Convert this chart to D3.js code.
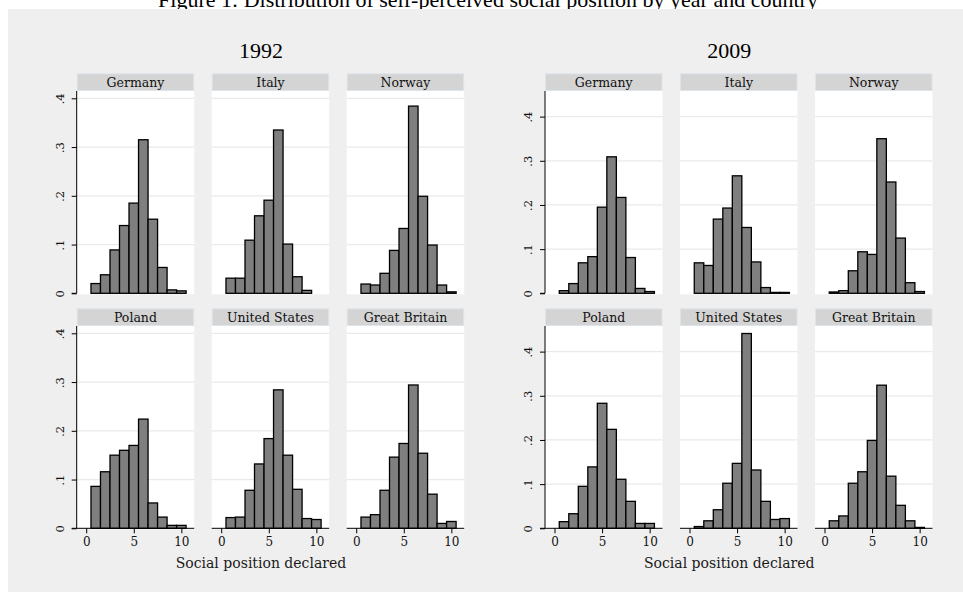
<!DOCTYPE html>
<html>
<head>
<meta charset="utf-8">
<script src="https://cdn.jsdelivr.net/npm/d3@7"></script>
<style>
  body { margin: 0; background: #fff; }
  svg { display: block; }
</style>
</head>
<body>
<div id="chart"></div>
<script>
// social position values 1..10 (histogram bins)
const positions = [1, 2, 3, 4, 5, 6, 7, 8, 9, 10];
const years = ["1992", "2009"];
const countries = ["Germany", "Italy", "Norway", "Poland", "United States", "Great Britain"];
const yTicks = [0, 0.1, 0.2, 0.3, 0.4];
const yTickLabels = ["0", ".1", ".2", ".3", ".4"];
const xTicks = [0, 5, 10];

// densities
const germany1992 = [0.020, 0.038, 0.089, 0.139, 0.185, 0.315, 0.152, 0.053, 0.007, 0.005];
const italy1992 = [0.031, 0.031, 0.109, 0.159, 0.191, 0.335, 0.101, 0.034, 0.006, 0];
const norway1992 = [0.019, 0.017, 0.041, 0.088, 0.133, 0.384, 0.199, 0.099, 0.017, 0.003];
const poland1992 = [0.086, 0.116, 0.150, 0.160, 0.170, 0.224, 0.052, 0.023, 0.006, 0.006];
const us1992 = [0.022, 0.023, 0.078, 0.132, 0.184, 0.284, 0.150, 0.080, 0.020, 0.018];
const gb1992 = [0.023, 0.028, 0.078, 0.146, 0.174, 0.294, 0.154, 0.070, 0.010, 0.014];

const germany2009 = [0.006, 0.022, 0.069, 0.083, 0.195, 0.309, 0.217, 0.081, 0.011, 0.004];
const italy2009 = [0.069, 0.063, 0.168, 0.193, 0.266, 0.149, 0.071, 0.013, 0.002, 0.002];
const norway2009 = [0.003, 0.006, 0.051, 0.094, 0.088, 0.350, 0.252, 0.125, 0.024, 0.004];
const poland2009 = [0.015, 0.033, 0.095, 0.139, 0.283, 0.224, 0.111, 0.061, 0.011, 0.011];
const us2009 = [0.004, 0.017, 0.042, 0.102, 0.147, 0.441, 0.132, 0.061, 0.020, 0.022];
const gb2009 = [0.017, 0.028, 0.102, 0.128, 0.199, 0.324, 0.118, 0.052, 0.017, 0.002];

const series = {
    "1992": [germany1992, italy1992, norway1992, poland1992, us1992, gb1992],
    "2009": [germany2009, italy2009, norway2009, poland2009, us2009, gb2009]
};

const width = 963, height = 592;
const svg = d3.select("#chart").append("svg")
    .attr("width", width)
    .attr("height", height);

// figure caption (partly cut off at the top, as in the source)
svg.append("text")
    .attr("x", 488)
    .attr("y", 7)
    .attr("text-anchor", "middle")
    .style("font-family", "Liberation Serif")
    .style("font-size", "22px")
    .text("Figure 1: Distribution of self-perceived social position by year and country");

svg.append("rect")
    .attr("x", 8).attr("y", 9)
    .attr("width", width - 8).attr("height", height - 9)
    .attr("fill", "#efefef");

// layout of each year block
const groupLeft = { "1992": 76.7, "2009": 545 };
const yMax = { "1992": 0.415, "2009": 0.458 };
const panelW = 117.5, colStep = 135;
const stripTop = [73.3, 308.3], stripH = 17.7;
const plotBottom = [293.3, 528.3];

years.forEach(year => {
    const g = svg.append("g");
    const left = groupLeft[year];
    const mid = left - 19 + (colStep * 2 + panelW + 19) / 2;

    g.append("text")
        .attr("x", mid)
        .attr("y", 58)
        .attr("text-anchor", "middle")
        .style("font-family", "Liberation Serif")
        .style("font-size", "22px")
        .text(year);

    g.append("text")
        .attr("x", mid)
        .attr("y", 568)
        .attr("text-anchor", "middle")
        .style("font-family", "DejaVu Serif")
        .style("font-size", "14px")
        .attr("fill", "#1a1a1a")
        .text("Social position declared");

    countries.forEach((country, i) => {
        const row = Math.floor(i / 3), col = i % 3;
        const px = left + col * colStep;
        const top = stripTop[row] + stripH;
        const bottom = plotBottom[row];

        const x = d3.scaleLinear().domain([-1, 11.35]).range([px, px + panelW]);
        const y = d3.scaleLinear().domain([0, yMax[year]]).range([bottom, top]);

        // strip
        g.append("rect")
            .attr("x", px + 0.5).attr("y", stripTop[row] + 0.5)
            .attr("width", panelW - 1).attr("height", stripH - 1)
            .attr("fill", "#d4d4d4")
            .attr("stroke", "#dce5ec")
            .attr("stroke-width", 1);
        g.append("text")
            .attr("x", px + panelW / 2)
            .attr("y", stripTop[row] + stripH / 2)
            .attr("dy", "0.36em")
            .attr("text-anchor", "middle")
            .style("font-family", "DejaVu Serif")
            .style("font-size", "12.5px")
            .attr("fill", "#111")
            .text(country);

        // plot region
        g.append("rect")
            .attr("x", px).attr("y", top)
            .attr("width", panelW).attr("height", bottom - top + 1)
            .attr("fill", "#fff");

        g.selectAll(null)
            .data(yTicks.slice(1))
            .enter()
            .append("line")
            .attr("x1", px).attr("x2", px + panelW)
            .attr("y1", d => y(d)).attr("y2", d => y(d))
            .attr("stroke", "#eaeaea")
            .attr("stroke-width", 1.2);

        // bars
        g.selectAll(null)
            .data(positions.map((p, k) => ({ p, v: series[year][i][k] })).filter(d => d.v > 0))
            .enter()
            .append("rect")
            .attr("x", d => x(d.p - 0.5))
            .attr("y", d => y(d.v))
            .attr("width", d => x(d.p + 0.5) - x(d.p - 0.5))
            .attr("height", d => y(0) - y(d.v))
            .attr("fill", "#7f7f7f")
            .attr("stroke", "#000")
            .attr("stroke-width", 1.3);

        // y axis on the left column
        if (col === 0) {
            const ya = g.append("g")
                .attr("transform", `translate(${px},0)`)
                .call(d3.axisLeft(y).tickValues(yTicks).tickSize(5).tickFormat((d, k) => yTickLabels[k]));
            ya.select(".domain").attr("d", `M-5,${y(0)}H0V${top}`).attr("stroke", "#000");
            ya.selectAll(".tick line").attr("stroke", "#000");
            ya.selectAll(".tick text")
                .attr("transform", "rotate(-90)")
                .attr("x", 0)
                .attr("y", -17)
                .attr("dy", "0.35em")
                .attr("text-anchor", "middle")
                .style("font-family", "DejaVu Serif")
                .style("font-size", "11.5px")
                .attr("fill", "#111");
        }

        // x axis on the bottom row
        if (row === 1) {
            const xa = g.append("g")
                .attr("transform", `translate(0,${bottom})`)
                .call(d3.axisBottom(x).tickValues(xTicks).tickSize(5).tickPadding(4));
            xa.select(".domain").attr("d", `M${px},0H${px + panelW}`).attr("stroke", "#000");
            xa.selectAll(".tick line").attr("stroke", "#000");
            xa.selectAll(".tick text")
                .style("font-family", "DejaVu Serif")
                .style("font-size", "12px")
                .attr("fill", "#111");
        }
    });
});
</script>
</body>
</html>
